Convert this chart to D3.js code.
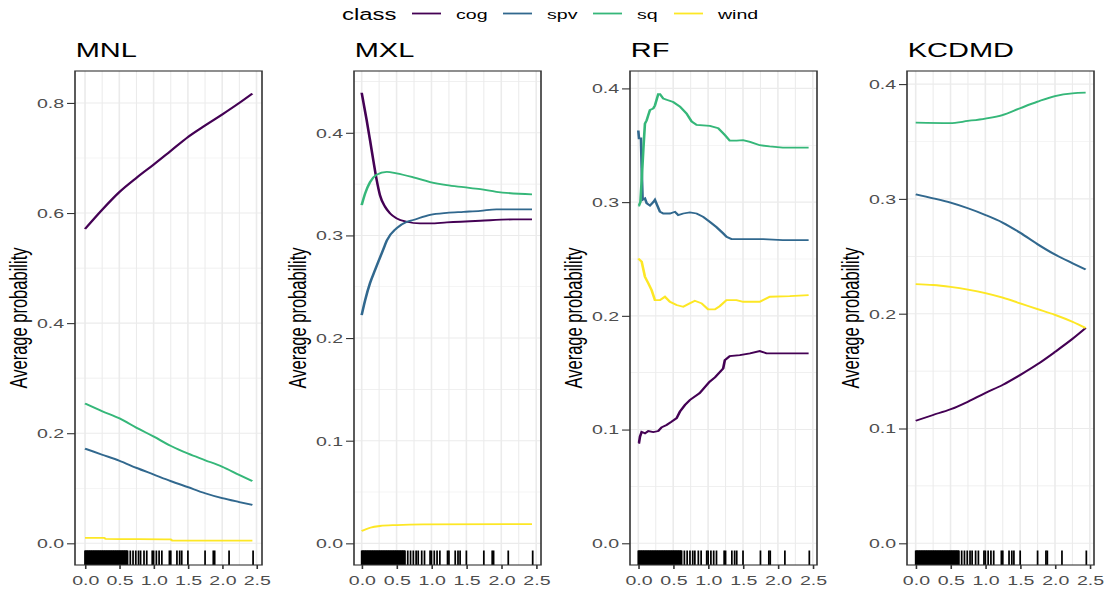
<!DOCTYPE html>
<html>
<head>
<meta charset="utf-8">
<script src="https://cdn.jsdelivr.net/npm/d3@7"></script>
<style>
  body { margin: 0; background: #fff; }
  text { font-family: "Liberation Sans", Arial, sans-serif; }
</style>
</head>
<body>
<div id="viz"></div>
<script>
// classes and models
const classes = ["cog", "spv", "sq", "wind"];
const colors = ["#440154", "#31688E", "#35B779", "#FDE725"];
const models = ["MNL", "MXL", "RF", "KCDMD"];

// tick labels
const xTicks = [0, 0.5, 1, 1.5, 2, 2.5];
const xMinor = [0.25, 0.75, 1.25, 1.75, 2.25];
const yTicksMNL = [0, 0.2, 0.4, 0.6, 0.8];
const yTicksOther = [0, 0.1, 0.2, 0.3, 0.4];

// observed x values (rug)
const rugX = [0, 0.01, 0.02, 0.03, 0.04, 0.05, 0.06, 0.07, 0.08, 0.09, 0.1, 0.11, 0.12, 0.13, 0.14,
  0.15, 0.16, 0.17, 0.18, 0.19, 0.2, 0.21, 0.22, 0.23, 0.24, 0.25, 0.26, 0.27, 0.28, 0.29, 0.3,
  0.31, 0.32, 0.33, 0.34, 0.35, 0.36, 0.37, 0.38, 0.39, 0.4, 0.41, 0.42, 0.43, 0.44, 0.45, 0.46,
  0.47, 0.48, 0.49, 0.5, 0.51, 0.52, 0.53, 0.54, 0.55, 0.56, 0.57, 0.58, 0.59, 0.6, 0.61, 0.62,
  0.66, 0.7, 0.74, 0.78, 0.81, 0.86, 0.9, 0.98, 1.0, 1.04, 1.08, 1.12, 1.23, 1.25, 1.34, 1.38, 1.41,
  1.5, 1.75, 1.87, 1.89, 2.1, 2.45];

// MNL series [x, probability]
const mnlCog = [[0, 0.571], [0.25, 0.606], [0.5, 0.638], [0.75, 0.664], [1, 0.688], [1.25, 0.713],
  [1.5, 0.738], [1.75, 0.759], [2, 0.779], [2.25, 0.8], [2.44, 0.817]];
const mnlSpv = [[0, 0.172], [0.25, 0.161], [0.5, 0.15], [0.75, 0.137], [1, 0.125], [1.25, 0.113],
  [1.5, 0.102], [1.75, 0.091], [2, 0.082], [2.25, 0.075], [2.44, 0.07]];
const mnlSq = [[0, 0.254], [0.25, 0.24], [0.5, 0.227], [0.75, 0.21], [1, 0.194], [1.25, 0.177],
  [1.5, 0.163], [1.75, 0.151], [2, 0.139], [2.25, 0.124], [2.44, 0.113]];
const mnlWind = [[0, 0.01], [0.28, 0.01], [0.3, 0.008], [1.25, 0.007], [1.27, 0.005], [2.44, 0.005]];

// MXL series
const mxlCog = [[0, 0.439], [0.024, 0.430], [0.072, 0.412], [0.119, 0.393], [0.167, 0.373],
  [0.215, 0.354], [0.263, 0.339], [0.334, 0.328], [0.406, 0.3215], [0.5, 0.3166], [0.645, 0.3133],
  [0.836, 0.3117], [0.98, 0.3117], [1.22, 0.3127], [1.7, 0.3143], [2.17, 0.3156], [2.44, 0.3156]];
const mxlSpv = [[0, 0.2224], [0.05, 0.237], [0.12, 0.2536], [0.19, 0.266], [0.26, 0.278],
  [0.33, 0.29], [0.36, 0.295], [0.5, 0.307], [0.64, 0.313], [0.74, 0.315], [0.98, 0.32],
  [1.22, 0.322], [1.46, 0.323], [1.7, 0.324], [1.93, 0.3254], [2.44, 0.3254]];
const mxlSq = [[0, 0.3296], [0.05, 0.341], [0.12, 0.352], [0.21, 0.359], [0.36, 0.362],
  [0.5, 0.3605], [0.74, 0.3566], [0.98, 0.352], [1.22, 0.349], [1.46, 0.347], [1.7, 0.345],
  [1.93, 0.3425], [2.44, 0.34]];
const mxlWind = [[0, 0.012], [0.12, 0.0152], [0.26, 0.0169], [0.5, 0.0178], [0.88, 0.0184], [2.44, 0.0187]];

// RF series
const rfCog = [[0, 0.0884], [0.01, 0.0884], [0.024, 0.0937], [0.048, 0.098], [0.095, 0.0967],
  [0.143, 0.0987], [0.215, 0.0978], [0.286, 0.0987], [0.334, 0.102], [0.405, 0.104], [0.477, 0.1069],
  [0.548, 0.11], [0.596, 0.1157], [0.668, 0.1216], [0.739, 0.126], [0.878, 0.132], [1.02, 0.142],
  [1.1, 0.146], [1.216, 0.1538], [1.24, 0.161], [1.31, 0.1646], [1.455, 0.1655], [1.6, 0.167],
  [1.74, 0.169], [1.836, 0.167], [2.44, 0.167]];
const rfSpv = [[0, 0.363], [0.01, 0.356], [0.038, 0.356], [0.048, 0.33], [0.062, 0.302],
  [0.095, 0.3033], [0.12, 0.299], [0.167, 0.297], [0.215, 0.3], [0.238, 0.302], [0.272, 0.297],
  [0.31, 0.2915], [0.358, 0.29], [0.453, 0.29], [0.525, 0.2915], [0.572, 0.2886], [0.644, 0.29],
  [0.739, 0.291], [0.835, 0.29], [0.93, 0.287], [1.025, 0.2827], [1.12, 0.278], [1.216, 0.2725],
  [1.264, 0.2695], [1.335, 0.2675], [1.788, 0.2675], [2.07, 0.2666], [2.44, 0.2666]];
const rfSq = [[0, 0.297], [0.01, 0.297], [0.03, 0.3], [0.048, 0.319], [0.072, 0.346], [0.095, 0.369],
  [0.12, 0.372], [0.143, 0.3765], [0.167, 0.381], [0.215, 0.3824], [0.238, 0.385], [0.262, 0.39],
  [0.286, 0.395], [0.31, 0.395], [0.358, 0.391], [0.405, 0.39], [0.5, 0.388], [0.596, 0.384],
  [0.69, 0.378], [0.763, 0.371], [0.835, 0.368], [1.025, 0.367], [1.145, 0.365], [1.24, 0.359],
  [1.31, 0.354], [1.41, 0.354], [1.5, 0.3545], [1.6, 0.353], [1.74, 0.35], [1.88, 0.349],
  [2.07, 0.348], [2.44, 0.348]];
const rfWind = [[0, 0.2505], [0.048, 0.2476], [0.095, 0.2344], [0.143, 0.2286], [0.19, 0.2227],
  [0.238, 0.2139], [0.31, 0.2139], [0.381, 0.2168], [0.453, 0.2124], [0.548, 0.2095], [0.644, 0.208],
  [0.739, 0.211], [0.81, 0.2133], [0.906, 0.211], [1.0, 0.2057], [1.097, 0.2057], [1.168, 0.2086],
  [1.264, 0.2139], [1.407, 0.2139], [1.502, 0.2124], [1.74, 0.2124], [1.884, 0.2168], [2.17, 0.2174],
  [2.44, 0.2183]];

// KCDMD series
const kcCog = [[0, 0.1068], [0.25, 0.1118], [0.5, 0.1167], [0.75, 0.1234], [1, 0.131], [1.25, 0.138],
  [1.5, 0.1466], [1.75, 0.156], [2, 0.1667], [2.25, 0.178], [2.44, 0.1875]];
const kcSpv = [[0, 0.304], [0.25, 0.3005], [0.5, 0.2967], [0.75, 0.2918], [1, 0.286], [1.25, 0.2793],
  [1.5, 0.2705], [1.75, 0.2605], [2, 0.2515], [2.25, 0.244], [2.44, 0.2385]];
const kcSq = [[0, 0.3664], [0.49, 0.366], [0.75, 0.3679], [1, 0.37], [1.245, 0.373], [1.5, 0.379],
  [1.75, 0.3847], [2, 0.3896], [2.25, 0.392], [2.44, 0.3925]];
const kcWind = [[0, 0.2258], [0.25, 0.225], [0.5, 0.2233], [0.75, 0.221], [1, 0.218], [1.25, 0.214],
  [1.5, 0.209], [1.75, 0.204], [2, 0.199], [2.25, 0.193], [2.44, 0.1875]];

const panels = [
  {name: "MNL", series: [mnlCog, mnlSpv, mnlSq, mnlWind], yTicks: yTicksMNL, xDom: [-0.146, 2.58], yDom: [-0.0394, 0.858], curve: d3.curveMonotoneX},
  {name: "MXL", series: [mxlCog, mxlSpv, mxlSq, mxlWind], yTicks: yTicksOther, xDom: [-0.11, 2.569], yDom: [-0.0211, 0.4602], curve: d3.curveMonotoneX},
  {name: "RF", series: [rfCog, rfSpv, rfSq, rfWind], yTicks: yTicksOther, xDom: [-0.119, 2.56], yDom: [-0.0191, 0.4153], curve: d3.curveLinear},
  {name: "KCDMD", series: [kcCog, kcSpv, kcSq, kcWind], yTicks: yTicksOther, xDom: [-0.125, 2.56], yDom: [-0.0189, 0.4114], curve: d3.curveMonotoneX}
];

// the picture is stretched horizontally, so draw in a narrower viewBox
const K = 1.45;
const width = 1106, height = 594;
const panelLeft = [75, 354, 630, 907];
const panelW = 187, panelTop = 71, panelBottom = 565;

const svg = d3.select("#viz").append("svg")
  .attr("width", width).attr("height", height)
  .attr("viewBox", `0 0 ${width / K} ${height}`)
  .attr("preserveAspectRatio", "none");

svg.append("rect").attr("width", width / K).attr("height", height).attr("fill", "#fff");

panels.forEach((p, i) => {
  const x = d3.scaleLinear().domain(p.xDom).range([panelLeft[i] / K, (panelLeft[i] + panelW) / K]);
  const y = d3.scaleLinear().domain(p.yDom).range([panelBottom, panelTop]);
  const g = svg.append("g");
  const [x0, x1] = x.range();

  // minor grid
  const step = p.yTicks[1] - p.yTicks[0];
  const yMinor = d3.range(p.yTicks[0] + step / 2, p.yDom[1], step);
  g.selectAll(".ymin").data(yMinor).enter().append("line")
    .attr("x1", x0).attr("x2", x1).attr("y1", d => y(d)).attr("y2", d => y(d))
    .attr("stroke", "#EBEBEB").attr("stroke-width", 0.7);
  g.selectAll(".xmin").data(xMinor).enter().append("line")
    .attr("x1", d => x(d)).attr("x2", d => x(d)).attr("y1", panelTop).attr("y2", panelBottom)
    .attr("stroke", "#EBEBEB").attr("stroke-width", 0.7);
  // major grid
  g.selectAll(".ymaj").data(p.yTicks).enter().append("line")
    .attr("x1", x0).attr("x2", x1).attr("y1", d => y(d)).attr("y2", d => y(d))
    .attr("stroke", "#EBEBEB").attr("stroke-width", 1.1);
  g.selectAll(".xmaj").data(xTicks).enter().append("line")
    .attr("x1", d => x(d)).attr("x2", d => x(d)).attr("y1", panelTop).attr("y2", panelBottom)
    .attr("stroke", "#EBEBEB").attr("stroke-width", 1.1);

  // lines
  const line = d3.line().x(d => x(d[0])).y(d => y(d[1])).curve(p.curve);
  g.selectAll(".series").data(p.series).enter().append("path")
    .attr("d", line)
    .attr("fill", "none")
    .attr("stroke", (d, j) => colors[j])
    .attr("stroke-width", 1.8);

  // rug
  g.selectAll(".rug").data(rugX).enter().append("line")
    .attr("x1", d => x(d)).attr("x2", d => x(d))
    .attr("y1", panelBottom).attr("y2", panelBottom - 14.5)
    .attr("stroke", "#000").attr("stroke-width", 1.2);

  // border
  g.append("rect").attr("x", x0).attr("y", panelTop).attr("width", x1 - x0).attr("height", panelBottom - panelTop)
    .attr("fill", "none").attr("stroke", "#333333").attr("stroke-width", 1.1);

  // axes
  const ax = g.append("g").attr("transform", `translate(${x0},0)`)
    .call(d3.axisLeft(y).tickValues(p.yTicks).tickFormat(d3.format(".1f")).tickSize(5.5).tickPadding(2));
  const bx = g.append("g").attr("transform", `translate(0,${panelBottom})`)
    .call(d3.axisBottom(x).tickValues(xTicks).tickFormat(d3.format(".1f")).tickSize(4).tickPadding(6.5));
  [ax, bx].forEach(a => {
    a.select(".domain").remove();
    a.selectAll(".tick line").attr("stroke", "#333333").attr("stroke-width", 1.1);
    a.selectAll(".tick text").attr("fill", "#4D4D4D").attr("font-size", 13.5)
      .attr("font-family", "Liberation Sans, Arial, sans-serif");
  });

  // title
  g.append("text").attr("x", x0 + 0.5).attr("y", 57).attr("font-size", 20).attr("fill", "#000")
    .text(p.name);
  // y title
  g.append("text")
    .attr("transform", `translate(${(panelLeft[i] - 56) / K},${(panelTop + panelBottom) / 2}) rotate(-90)`)
    .attr("text-anchor", "middle").attr("dy", "0.35em")
    .attr("font-size", 16.5).attr("fill", "#000")
    .text("Average probability");
});

// legend
const legend = svg.append("g");
legend.append("text").attr("x", 342 / K).attr("y", 20.5).attr("font-size", 16.5).text("class");
const legX = [412, 503, 593, 674];
classes.forEach((c, j) => {
  legend.append("line").attr("x1", legX[j] / K).attr("x2", (legX[j] + 29) / K)
    .attr("y1", 13.5).attr("y2", 13.5).attr("stroke", colors[j]).attr("stroke-width", 1.8);
  legend.append("text").attr("x", (legX[j] + 44) / K).attr("y", 19.5).attr("font-size", 13.5).text(c);
});
</script>
</body>
</html>
